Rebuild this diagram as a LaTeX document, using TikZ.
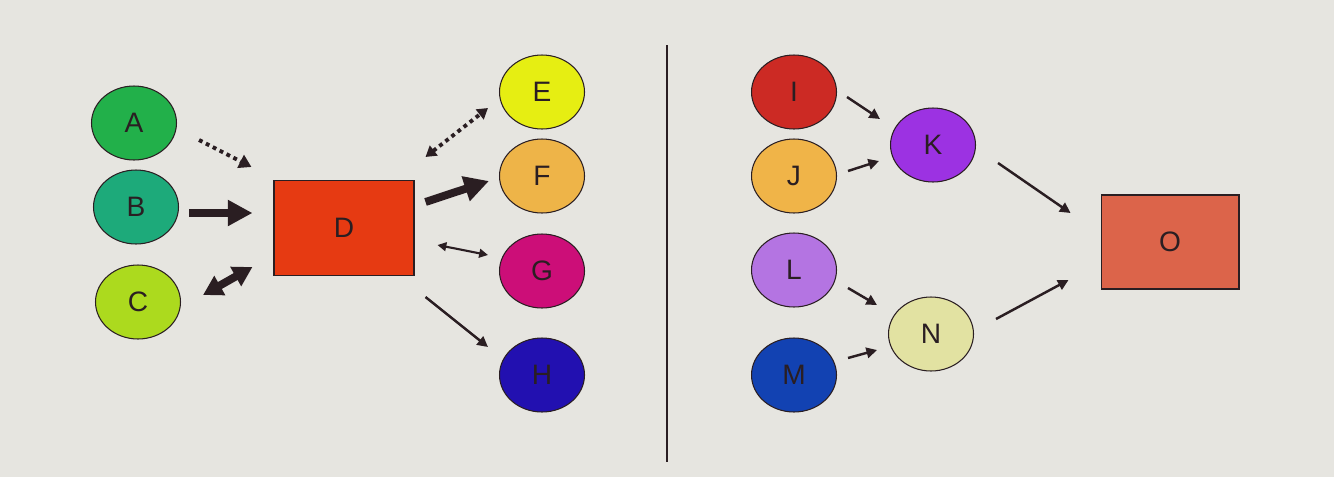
\documentclass[tikz,border=0pt]{standalone}
\usepackage{fontspec}
\setmainfont{Liberation Sans}
\usetikzlibrary{shapes.geometric,arrows.meta}
\definecolor{bg}{HTML}{E6E5E0}
\definecolor{cA}{HTML}{22B04A}
\definecolor{cB}{HTML}{1DAA7A}
\definecolor{cC}{HTML}{ACDA1E}
\definecolor{cD}{HTML}{E63A12}
\definecolor{cE}{HTML}{E6EE12}
\definecolor{cF}{HTML}{EEB448}
\definecolor{cG}{HTML}{CC0E78}
\definecolor{cH}{HTML}{2210B0}
\definecolor{cI}{HTML}{CC2A24}
\definecolor{cJ}{HTML}{F0B448}
\definecolor{cK}{HTML}{9C32E2}
\definecolor{cL}{HTML}{B474E2}
\definecolor{cM}{HTML}{1242B2}
\definecolor{cN}{HTML}{E2E2A2}
\definecolor{cO}{HTML}{DC644A}
\definecolor{ink}{HTML}{2A1E22}
\tikzset{
  ell/.style={ellipse, draw=ink, line width=0.6pt, minimum width=1.7cm, minimum height=1.48cm, inner sep=0pt, text=ink, font=\fontsize{16}{19}\selectfont},
  box/.style={rectangle, draw=ink, line width=0.6pt, inner sep=0pt, text=ink, font=\fontsize{16}{19}\selectfont},
  thin/.style={draw=ink, line width=1.4pt, -{Triangle[length=6pt,width=6pt]}},
  thinboth/.style={draw=ink, line width=1.2pt, {Triangle[length=5pt,width=5pt]}-{Triangle[length=5pt,width=5pt]}},
  thick/.style={draw=ink, line width=4.5pt, -{Triangle[length=14pt,width=14pt]}},
  thickboth/.style={draw=ink, line width=4.5pt, {Triangle[length=11pt,width=12pt]}-{Triangle[length=11pt,width=12pt]}},
  dots/.style={draw=ink, line width=2.2pt, dash pattern=on 2.2pt off 2.2pt},
}
\begin{document}
\begin{tikzpicture}[x=0.02cm,y=-0.02cm]
\fill[bg] (0,0) rectangle (1334,477);
\useasboundingbox (0,0) rectangle (1334,477);
% left group
\node[ell, fill=cA] (A) at (134,123) {A};
\node[ell, fill=cB] (B) at (136,207) {B};
\node[ell, fill=cC] (C) at (138,302) {C};
\node[box, fill=cD, minimum width=2.8cm, minimum height=1.9cm] (D) at (344,228) {D};
\node[ell, fill=cE] (E) at (542,92) {E};
\node[ell, fill=cF] (F) at (542,176) {F};
\node[ell, fill=cG] (G) at (542,271) {G};
\node[ell, fill=cH] (H) at (542,375) {H};
% divider
\draw[ink, line width=1pt] (667,45) -- (667,462);
% right group
\node[ell, fill=cI] (I) at (794,92) {I};
\node[ell, fill=cJ] (J) at (794,176) {J};
\node[ell, fill=cL] (L) at (794,270) {L};
\node[ell, fill=cM] (M) at (794,375) {M};
\node[ell, fill=cK] (K) at (933,145) {K};
\node[ell, fill=cN] (N) at (931,334) {N};
\node[box, fill=cO, minimum width=2.76cm, minimum height=1.88cm] (O) at (1170,242) {O};
% connectors left
\draw[dots, -{Triangle[length=7pt,width=8pt]}] ([shift={(22,17)}]A.east) -- ([shift={(-22,-13)}]D.north west);
\draw[thick] ([shift={(10,6)}]B.east) -- ([shift={(-21,-15)}]D.west);
\draw[thickboth] ([shift={(22,-7)}]C.east) -- ([shift={(-21,-9)}]D.south west);
\draw[dots, {Triangle[length=6pt,width=7pt]}-{Triangle[length=6pt,width=7pt]}] ([shift={(11,-23)}]D.north east) -- ([shift={(-11,16)}]E.west);
\draw[thick] ([shift={(11,22)}]D.north east) -- ([shift={(-10,5)}]F.west);
\draw[thinboth] ([shift={(23,17)}]D.east) -- ([shift={(-11,-16)}]G.west);
\draw[thin] ([shift={(11,21)}]D.south east) -- ([shift={(-11,-28)}]H.west);
% connectors right
\draw[thin] ([shift={(10,5)}]I.east) -- ([shift={(-10,-26)}]K.west);
\draw[thin] ([shift={(11,-5)}]J.east) -- ([shift={(-11,16)}]K.west);
\draw[thin] ([shift={(11,18)}]L.east) -- ([shift={(-11,-29)}]N.west);
\draw[thin] ([shift={(11,-17)}]M.east) -- ([shift={(-11,16)}]N.west);
\draw[thin] ([shift={(22,18)}]K.east) -- ([shift={(-30,-29)}]O.west);
\draw[thin] ([shift={(22,-15)}]N.east) -- ([shift={(-32,38)}]O.west);
\end{tikzpicture}
\end{document}
